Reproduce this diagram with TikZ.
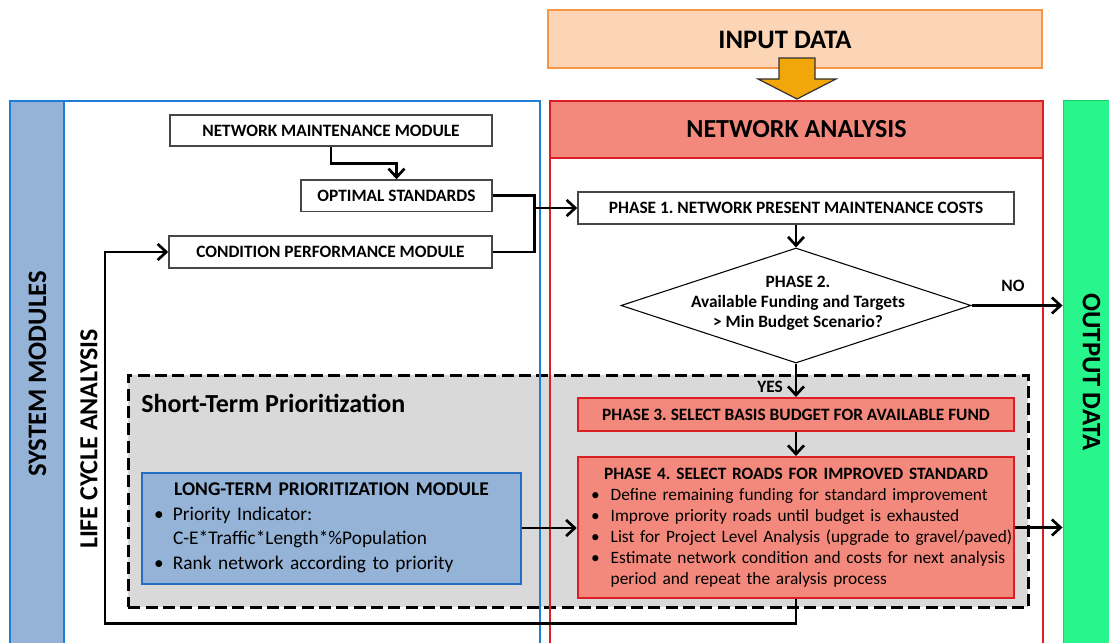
\documentclass[tikz,border=0pt]{standalone}
\usepackage{fontspec}
\setmainfont{Carlito}
\usetikzlibrary{arrows.meta,shapes.geometric}
\definecolor{inpfill}{RGB}{251,213,181}
\definecolor{inpdraw}{RGB}{247,150,70}
\definecolor{arrfill}{RGB}{242,166,10}
\definecolor{sysfill}{RGB}{149,179,215}
\definecolor{sysdraw}{RGB}{30,125,215}
\definecolor{ltdraw}{RGB}{35,110,195}
\definecolor{nadraw}{RGB}{218,30,35}
\definecolor{nafill}{RGB}{243,137,124}
\definecolor{outfill}{RGB}{40,245,140}
\definecolor{outdraw}{RGB}{30,205,110}
\definecolor{grayfill}{RGB}{217,217,217}
\definecolor{boxdraw}{RGB}{70,70,70}
\frenchspacing
\newcommand\bul[2]{\par\noindent\makebox[#2][l]{\hspace{#1}\textbullet}\ignorespaces}
\newcommand\cont[1]{\par\noindent\hspace*{#1}\ignorespaces}
\begin{document}
\begin{tikzpicture}[x=0.75pt,y=-0.75pt,
  conn/.style={line width=2pt, black},
  arr/.style={conn, -{Straight Barb[length=6.5pt,width=12pt]}},
  whitebox/.style={draw=boxdraw, line width=1.1pt, fill=white, inner sep=0pt,
    font=\fontsize{13}{15}\selectfont\bfseries},
  redbox/.style={draw=nadraw, line width=1.5pt, fill=nafill, inner sep=0pt,
    font=\fontsize{13}{15}\selectfont\bfseries},
  biglbl/.style={font=\fontsize{20}{24}\selectfont\bfseries, inner sep=0pt},
  lbl/.style={font=\fontsize{13}{15}\selectfont\bfseries, inner sep=0pt}]
\useasboundingbox (0,0) rectangle (1109,642);
\clip (0,0) rectangle (1109,642);
\fill[white] (0,0) rectangle (1109,642);

% input data
\node[draw=inpdraw, fill=inpfill, line width=1.5pt, minimum width=370.5pt, minimum height=43.5pt] (inp) at (794.5,39) {};
\node[font=\fontsize{20}{22}\selectfont\bfseries, inner sep=0pt] (inpt) at (785,40) {INPUT DATA};
\draw[fill=arrfill, draw=black!80, line width=0.9pt]
  (779,58) -- (815,58) -- (815,79) -- (836,79) -- (797,99) -- (758,79) -- (779,79) -- cycle;

% system modules strip
\fill[sysfill] (10,101) rectangle (64,660);

% short-term prioritization (gray dashed)
\node[draw=black, fill=grayfill, line width=2.2pt, dash pattern=on 9pt off 4pt,
  minimum width=675pt, minimum height=174pt, anchor=north west, inner sep=0pt] (stp) at (127,374) {};
\node[anchor=west, font=\fontsize{19.5}{22}\selectfont\bfseries, inner sep=0pt] (stpt) at (141,403) {Short-Term Prioritization};

\draw[sysdraw, line width=1.5pt] (10,101) rectangle (540,660);
\draw[sysdraw, line width=1.5pt] (64,101) -- (64,660);
\node[biglbl, rotate=90] (sysl) at (37.5,374) {SYSTEM MODULES};
\node[biglbl, rotate=90, font=\fontsize{19.5}{24}\selectfont\bfseries] (lcal) at (89,439) {LIFE CYCLE ANALYSIS};

% network analysis frame
\draw[nadraw, line width=1.5pt] (550,100.5) rectangle (1043,660);
\node[draw=nadraw, fill=nafill, line width=1.5pt, minimum width=369.75pt, minimum height=43.1pt,
  font=\fontsize{19.5}{22}\selectfont\bfseries] (nah) at (796.5,129.25) {NETWORK ANALYSIS};

% output data
\node[fill=outfill, draw=outdraw, line width=1.2pt, minimum width=40pt, minimum height=430pt,
  anchor=north west, inner sep=0pt] (out) at (1062.5,99.5) {};
\node[biglbl, rotate=-90] (outl) at (1091.5,372) {OUTPUT DATA};

% left modules
\node[whitebox, minimum width=241.5pt, minimum height=23.25pt] (nmm) at (331,130.5) {NETWORK MAINTENANCE MODULE};
\node[whitebox, minimum width=143.25pt, minimum height=23.6pt] (opt) at (396.5,195.75) {OPTIMAL STANDARDS};
\node[whitebox, minimum width=242.25pt, minimum height=24pt] (cpm) at (330.5,252) {CONDITION PERFORMANCE MODULE};

% phases
\node[whitebox, minimum width=327pt, minimum height=24pt] (p1) at (796,208) {PHASE 1. NETWORK PRESENT MAINTENANCE COSTS};
\node[diamond, draw=black, line width=0.8pt, fill=white, minimum width=262.5pt, minimum height=86.25pt,
  inner sep=0pt] (d2) at (796,305.5) {};
\node[lbl, align=center, font=\fontsize{13}{15}\selectfont\bfseries] (d2t) at (798,303) {PHASE 2.\\Available Funding and Targets\\> Min Budget Scenario?};
\node[redbox, minimum width=327.4pt, minimum height=24.75pt] (p3) at (796,414.5) {PHASE 3. SELECT BASIS BUDGET FOR AVAILABLE FUND};
\node[redbox, minimum width=327.4pt, minimum height=105.75pt, text width=327.4pt, inner sep=0pt,
  font=\fontsize{13}{15.75}\selectfont] (p4) at (796,527.5) {%
  {\centering\bfseries PHASE 4. SELECT ROADS FOR IMPROVED STANDARD\par}
  \raggedright
  \bul{10pt}{24.75pt}Define remaining funding for standard improvement
  \bul{10pt}{24.75pt}Improve priority roads until budget  is exhausted
  \bul{10pt}{24.75pt}List for Project Level Analysis (upgrade to gravel/paved)
  \bul{10pt}{24.75pt}Estimate network condition  and costs for next analysis
  \cont{24.75pt}period and repeat the aralysis process\par};

% long-term module
\node[draw=ltdraw, fill=sysfill, line width=1.5pt, minimum width=284.25pt, minimum height=83.25pt,
  text width=284.25pt, inner sep=0pt, font=\fontsize{14.5}{18.4}\selectfont] (lt) at (331.5,528) {%
  {\centering\bfseries\fontsize{14.6}{18.4}\selectfont LONG-TERM PRIORITIZATION MODULE\par}
  \raggedright
  \bul{9pt}{23.25pt}Priority Indicator:
  \cont{23.25pt}C-E*Traffic*Length*\%Population
  \bul{9pt}{23.25pt}Rank network  according to priority\par};

% connectors
\draw[arr] (nmm.south) -- ++(0,17) -| (opt.north);
\coordinate (jn) at (534.6,208);
\draw[conn] (opt.east) -| (jn);
\draw[conn] (cpm.east) -| (jn);
\draw[arr] (jn) -- (p1.west);
\draw[arr] (p1.south) -- (d2.north);
\draw[arr] (d2.east) -- (d2.east -| out.west);
\node[lbl] (nol) at (1013,286) {NO};
\draw[arr] (d2.south) -- (p3.north);
\node[lbl] (yesl) at (770,386.5) {YES};
\draw[arr] (p3.south) -- (p4.north);
\draw[arr] (p4.east) -- (p4.east -| out.west);
\draw[arr] (lt.east) -- (lt.east -| p4.west);
\coordinate (lpc) at (105,623.3);
\draw[arr] (p4.south) |- (lpc) |- (cpm.west);
\end{tikzpicture}
\end{document}
